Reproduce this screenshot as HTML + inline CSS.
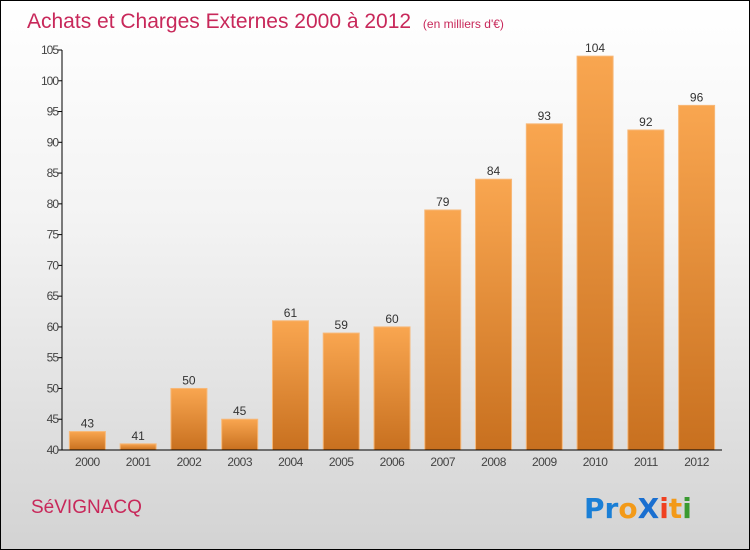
<!DOCTYPE html>
<html><head><meta charset="utf-8"><style>
body{margin:0}
#c{width:748px;height:548px;border:1px solid #000;background:linear-gradient(#fff,#f3f3f3 40%,#d3d3d3);position:relative;overflow:hidden;font-family:"Liberation Sans",sans-serif}
</style></head><body>
<div id="c">
<svg width="748" height="548">
<defs><linearGradient id="g" x1="0" y1="0" x2="0" y2="1"><stop offset="0" stop-color="#f9a650"/><stop offset="1" stop-color="#c8701f"/></linearGradient></defs>
<text x="26" y="27" font-size="21" fill="#c8285a">Achats et Charges Externes 2000 à 2012 <tspan font-size="12" dx="6">(en milliers d'€)</tspan></text>
<g id="plot"></g>
<text x="30" y="512" font-size="19" fill="#c8285a">SéVIGNACQ</text>
<text x="583" y="517" font-size="28" font-weight="bold" font-family="DejaVu Sans"><tspan fill="#1a7fd6">Pr</tspan><tspan fill="#f39a18">o</tspan><tspan fill="#1a6fd0">X</tspan><tspan fill="#f04020">i</tspan><tspan fill="#f39a18">t</tspan><tspan fill="#3a9a30">i</tspan></text>
</svg></div>
<script>
const years=["2000","2001","2002","2003","2004","2005","2006","2007","2008","2009","2010","2011","2012"];
const values=[43,41,50,45,61,59,60,79,84,93,104,92,96];
const ticks=[40,45,50,55,60,65,70,75,80,85,90,95,100,105];
const NS="http://www.w3.org/2000/svg",p=document.getElementById('plot');
const x0=61,x1=721,yb=449,yt=49,vmin=40,vmax=105;
const y=v=>yb-(v-vmin)/(vmax-vmin)*(yb-yt);
const bw=(x1-x0)/years.length;
function mk(t,a,txt){const e=document.createElementNS(NS,t);for(const k in a)e.setAttribute(k,a[k]);if(txt!=null)e.textContent=txt;p.appendChild(e);return e;}
ticks.forEach(t=>{
const l=mk('line',{x1:x0-4,x2:x0,y1:y(t),y2:y(t),stroke:'#000'});


const tx=mk('text',{x:x0-4,y:y(t)+4,'text-anchor':'end','font-size':12,fill:'#444','letter-spacing':'-1'},t);


});
years.forEach((yr,i)=>{
const cx=x0+bw*(i+0.5),v=values[i];
const r=mk('rect',{x:cx-18,y:y(v),width:36,height:yb-y(v),fill:'url(#g)',stroke:'#f7b878','stroke-width':1});


const vl=mk('text',{x:cx,y:y(v)-4,'text-anchor':'middle','font-size':12,fill:'#333'},v);


const xl=mk('text',{x:cx,y:yb+16,'text-anchor':'middle','font-size':12,fill:'#444','letter-spacing':'-0.5'},yr);


});
const ya=mk('line',{x1:x0,x2:x0,y1:yt,y2:yb,stroke:'#000'});


const xa=mk('line',{x1:x0,x2:x1,y1:yb,y2:yb,stroke:'#000'});


</script>
</body></html>
